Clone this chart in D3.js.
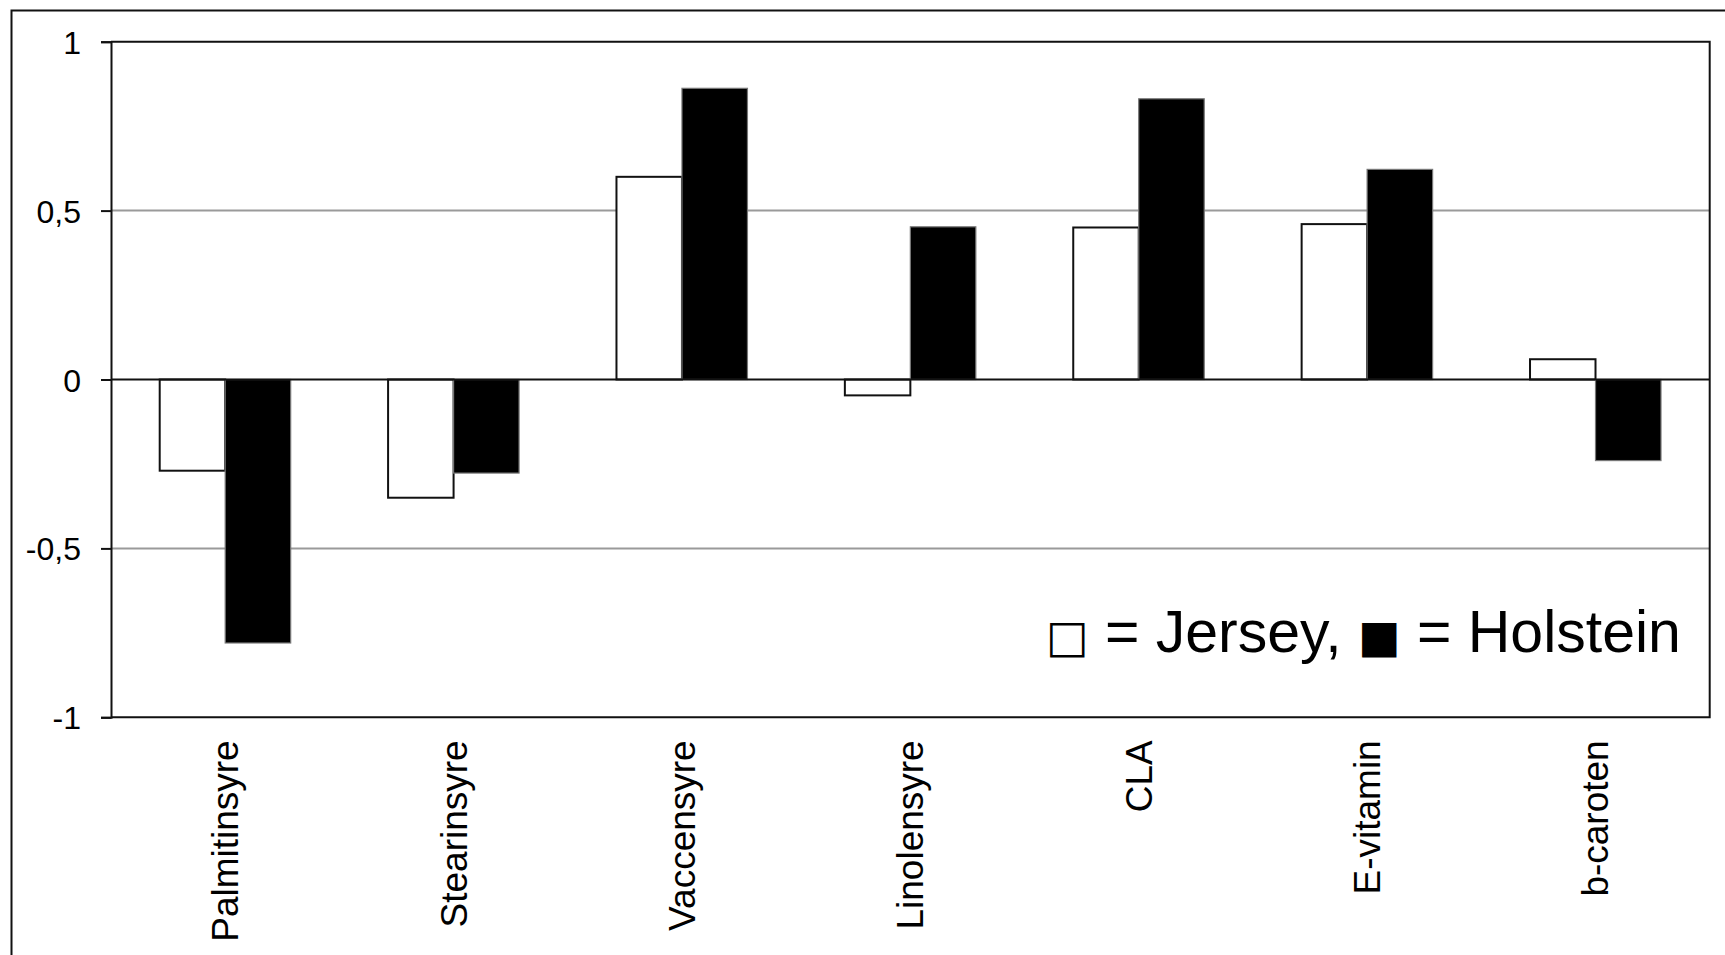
<!DOCTYPE html>
<html>
<head>
<meta charset="utf-8">
<script src="https://cdn.jsdelivr.net/npm/d3@7"></script>
<style>
  html, body { margin: 0; padding: 0; background: #fff; }
  svg { display: block; }
</style>
</head>
<body>
<svg id="chart" width="1725" height="955"></svg>
<script>
const categories = ["Palmitinsyre", "Stearinsyre", "Vaccensyre", "Linolensyre", "CLA", "E-vitamin", "b-caroten"];
const seriesNames = ["Jersey", "Holstein"];
const jersey = [-0.27, -0.35, 0.60, -0.047, 0.45, 0.46, 0.06];
const holstein = [-0.78, -0.277, 0.862, 0.452, 0.831, 0.622, -0.24];
const yTicks = [-1, -0.5, 0, 0.5, 1];
const yTickLabels = ["-1", "-0,5", "0", "0,5", "1"];

const svg = d3.select("#chart");
const mLeft = 111, mRight = 1709.7, mTop = 41.7, mBottom = 717.3;

// outer chart frame (cut off at right/bottom)
svg.append("rect")
  .attr("x", 11.5).attr("y", 10.5)
  .attr("width", 1760).attr("height", 1000)
  .attr("fill", "none").attr("stroke", "#111").attr("stroke-width", 2);

const y = d3.scaleLinear().domain([-1, 1]).range([mBottom, mTop]);
const pad = 0.4265;
const x0 = d3.scaleBand().domain(categories).range([mLeft, mRight])
  .paddingInner(pad).paddingOuter(pad / 2);
const x1 = d3.scaleBand().domain(seriesNames).range([0, x0.bandwidth()]);

// gridlines
svg.append("g").selectAll("line")
  .data(yTicks.filter(d => d !== 0 && Math.abs(d) !== 1))
  .join("line")
  .attr("x1", mLeft).attr("x2", mRight)
  .attr("y1", d => y(d)).attr("y2", d => y(d))
  .attr("stroke", "#9a9a9a").attr("stroke-width", 2);

// bars
const data = [];
categories.forEach((c, i) => {
  data.push({ cat: c, s: "Jersey", v: jersey[i] });
  data.push({ cat: c, s: "Holstein", v: holstein[i] });
});

svg.append("g").selectAll("rect")
  .data(data)
  .join("rect")
  .attr("x", d => x0(d.cat) + x1(d.s))
  .attr("width", x1.bandwidth())
  .attr("y", d => y(Math.max(0, d.v)))
  .attr("height", d => Math.abs(y(d.v) - y(0)))
  .attr("fill", d => d.s === "Jersey" ? "#fff" : "#000")
  .attr("stroke", d => d.s === "Jersey" ? "#111" : "#777")
  .attr("stroke-width", d => d.s === "Jersey" ? 2 : 1.2);

// zero line
svg.append("line")
  .attr("x1", mLeft).attr("x2", mRight)
  .attr("y1", y(0)).attr("y2", y(0))
  .attr("stroke", "#111").attr("stroke-width", 2);

// plot area border (top/right/bottom)
svg.append("path")
  .attr("d", `M${mLeft},${mTop}H${mRight}V${mBottom}H${mLeft}`)
  .attr("fill", "none").attr("stroke", "#111").attr("stroke-width", 2);

// y axis
const yAxis = d3.axisLeft(y).tickValues(yTicks)
  .tickFormat((d, i) => yTickLabels[i]).tickSize(10).tickPadding(20);
const ga = svg.append("g").attr("transform", `translate(${mLeft},0)`).call(yAxis);
ga.select(".domain").attr("stroke", "#111").attr("stroke-width", 2);
ga.selectAll(".tick line").attr("stroke", "#111").attr("stroke-width", 2);
ga.selectAll(".tick text")
  .attr("font-family", "'Liberation Sans', Arial, sans-serif")
  .attr("font-size", 32).attr("fill", "#000").attr("dy", "0.36em");

// x category labels
const xAxis = d3.axisBottom(x0).tickSize(0).tickPadding(0);
const gx = svg.append("g").attr("transform", `translate(0,${mBottom})`).call(xAxis);
gx.select(".domain").remove();
gx.selectAll(".tick text")
  .attr("font-family", "'Liberation Sans', Arial, sans-serif")
  .attr("font-size", 37).attr("fill", "#000")
  .attr("text-anchor", "end")
  .attr("transform", "translate(0,23) rotate(-90)")
  .attr("x", 0).attr("y", 0).attr("dy", "0.35em");

// legend
const leg = svg.append("text")
  .attr("x", 1046).attr("y", 651.5)
  .attr("font-family", "'Liberation Sans', Arial, sans-serif")
  .attr("font-size", 59).attr("fill", "#000");
leg.append("tspan").attr("font-family", "'DejaVu Sans'").attr("font-size", 45).text("□");
leg.append("tspan").text(" = Jersey, ");
leg.append("tspan").attr("font-family", "'DejaVu Sans'").attr("font-size", 45).text("■");
leg.append("tspan").text(" = Holstein");
</script>
</body>
</html>
